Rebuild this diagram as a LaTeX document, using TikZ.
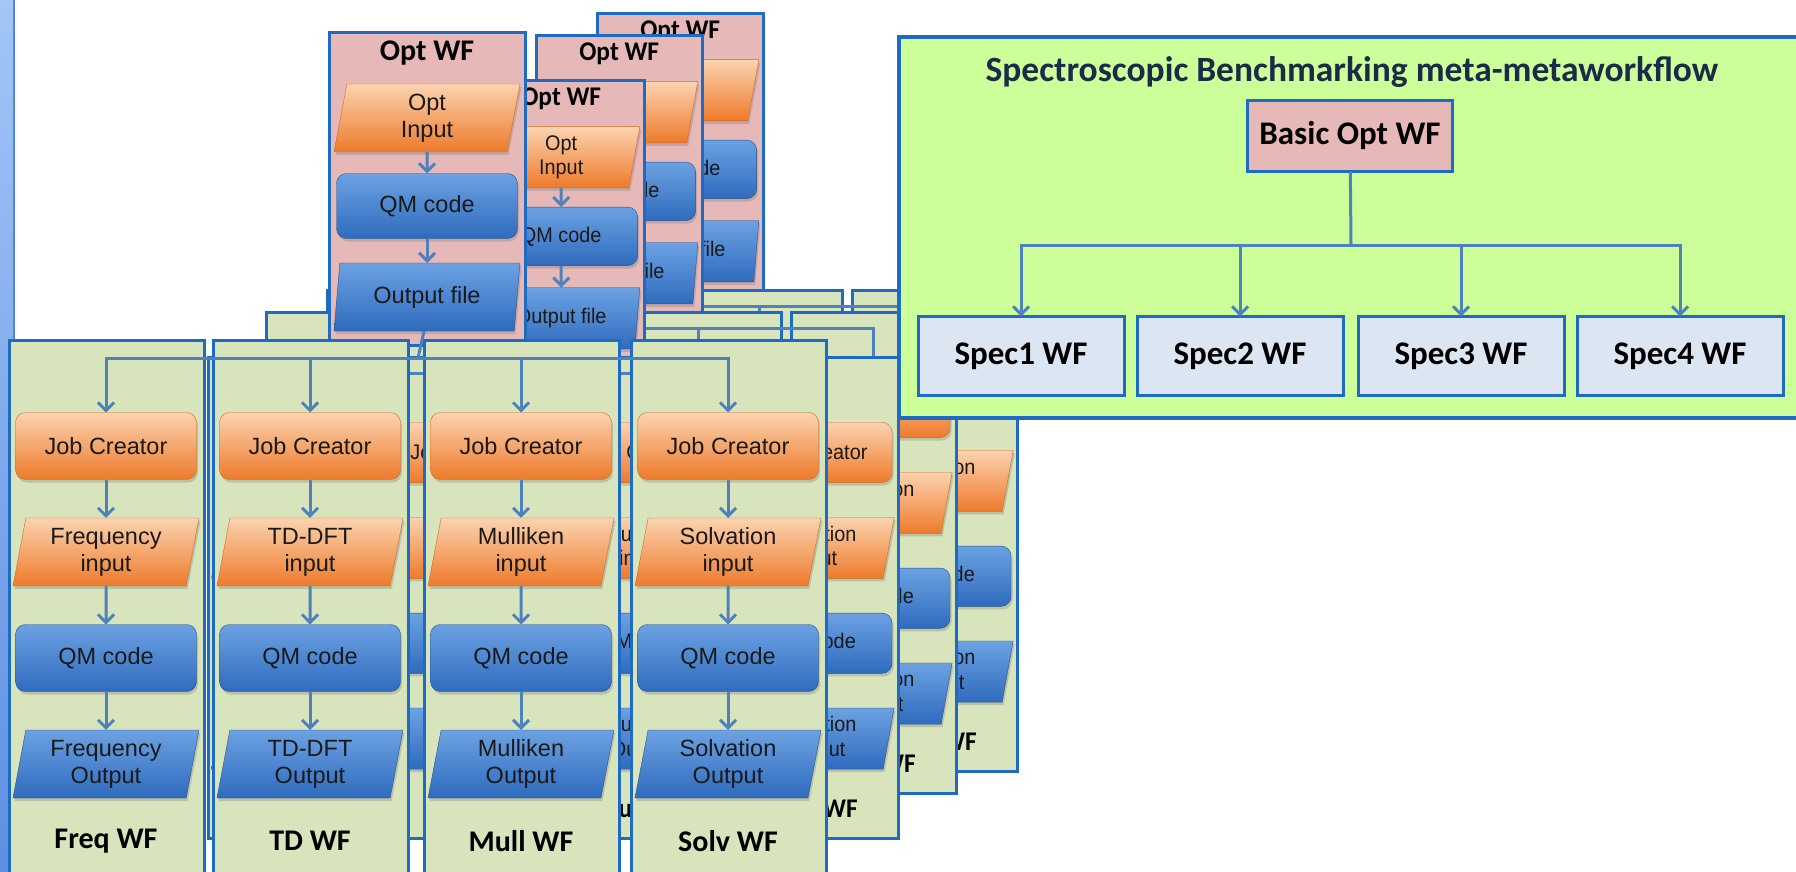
\documentclass[tikz,border=0pt]{standalone}
\usepackage{fontspec}
\setmainfont{Liberation Sans}
\newfontfamily\titlefont{Carlito}
\usetikzlibrary{shapes.geometric,arrows.meta,shadows}

\definecolor{panelblue}{HTML}{1E6BC4}
\definecolor{panelgreen}{HTML}{D8E4BC}
\definecolor{panelpink}{HTML}{E6B9B8}
\definecolor{metagreen}{HTML}{CCFF99}
\definecolor{specblue}{HTML}{DCE6F2}
\definecolor{flowblue}{HTML}{4F81BD}
\definecolor{jobtop}{HTML}{FBD3B0}
\definecolor{jobbot}{HTML}{EE7A2A}
\definecolor{jobedge}{HTML}{D0691E}
\definecolor{qmtop}{HTML}{6CA2E2}
\definecolor{qmbot}{HTML}{2F6BBE}
\definecolor{qmedge}{HTML}{24528E}
\definecolor{titlenavy}{HTML}{1B2A48}
\definecolor{bartop}{HTML}{A3C5F7}
\definecolor{barbot}{HTML}{5E8FE0}

% one copy of the optimisation workflow with its four property workflows
\newcommand{\metacopy}[5]{%
\begin{scope}[shift={(#2,#3)}, xscale=#4, yscale=#5, transform shape]
  \node[pinkpanel]  (#1 opt)       at (320,-307) {};
  \node[paneltitle] (#1 opt title) at (418,-287) {Opt WF};
  \node[inbox]      (#1 opt in)    at (418,-222) {Opt\\Input};
  \node[codebox, minimum height=65] (#1 opt qm) at (418,-134) {QM code};
  \node[outbox]     (#1 opt out)   at (418,-43)  {Output file};
  \draw[flow] (#1 opt in) -- (#1 opt qm);
  \draw[flow] (#1 opt qm) -- (#1 opt out);
  \foreach \i/\px/\prop/\wf in {1/0/Frequency/Freq WF, 2/204/TD-DFT/TD WF,
                                3/415/Mulliken/Mull WF, 4/622/Solvation/Solv WF}{
    \node[greenpanel] (#1 p\i)       at (\px,0)      {};
    \node[jobbox]     (#1 p\i jc)    at (\px+97,106) {Job Creator};
    \node[inbox]      (#1 p\i in)    at (\px+97,212) {\prop\\input};
    \node[codebox]    (#1 p\i qm)    at (\px+97,318) {QM code};
    \node[outbox]     (#1 p\i out)   at (\px+97,424) {\prop\\Output};
    \node[paneltitle] (#1 p\i title) at (\px+97,501) {\wf};
    \draw[flow] (#1 p\i jc) -- (#1 p\i in);
    \draw[flow] (#1 p\i in) -- (#1 p\i qm);
    \draw[flow] (#1 p\i qm) -- (#1 p\i out);
  }
  \coordinate (#1 bus) at (409,18);
  \draw[flowline] (#1 opt out.bottom side) -- (#1 bus);
  \foreach \i in {1,...,4}
    \draw[flow] (#1 bus) -| (#1 p\i jc);
\end{scope}}

\begin{document}
\begin{tikzpicture}[x=1pt, y=-1pt,
    every node/.style = {inner sep=0pt, outer sep=0pt},
    panelbox/.style   = {draw=panelblue, line width=3pt, anchor=north west},
    greenpanel/.style = {panelbox, fill=panelgreen,
                         minimum width=195, minimum height=535},
    pinkpanel/.style  = {panelbox, fill=panelpink,
                         minimum width=196, minimum height=312},
    paneltitle/.style = {font=\titlefont\bfseries\fontsize{30}{32}\selectfont},
    boxtext/.style    = {align=center, text=black!90,
                         font=\fontsize{23.5}{27}\selectfont,
                         drop shadow={opacity=0.35, shadow xshift=1.5pt,
                                      shadow yshift=-3pt}},
    jobbox/.style     = {boxtext, rounded corners=10pt, draw=jobedge,
                         top color=jobtop, bottom color=jobbot,
                         minimum width=181, minimum height=67},
    codebox/.style    = {boxtext, rounded corners=10pt, draw=qmedge,
                         top color=qmtop, bottom color=qmbot,
                         minimum width=181, minimum height=67},
    parabox/.style    = {boxtext, trapezium, trapezium left angle=75,
                         trapezium right angle=105, trapezium stretches body,
                         minimum width=186, minimum height=68},
    inbox/.style      = {parabox, draw=jobedge,
                         top color=jobtop, bottom color=jobbot},
    outbox/.style     = {parabox, draw=qmedge,
                         top color=qmtop, bottom color=qmbot},
    flowline/.style   = {draw=flowblue, line width=3pt},
    flow/.style       = {flowline, -{Straight Barb[length=8pt,width=16pt]}},
    metabox/.style    = {panelblue, fill=metagreen, draw, line width=3.5pt,
                         anchor=north west, minimum width=910, minimum height=381},
    metatitle/.style  = {text=titlenavy,
                         font=\titlefont\bfseries\fontsize{35.5}{38}\selectfont},
    basicbox/.style   = {draw=panelblue, fill=panelpink, line width=3pt,
                         minimum width=205, minimum height=71,
                         font=\titlefont\bfseries\fontsize{33}{35}\selectfont},
    specbox/.style    = {draw=panelblue, fill=specblue, line width=3pt,
                         minimum width=206, minimum height=79,
                         font=\titlefont\bfseries\fontsize{33}{35}\selectfont}]

  \path[use as bounding box, clip] (0,0) rectangle (1796,872);
  \fill[white] (0,0) rectangle (1796,872);

  % slide edge
  \shade[top color=bartop, bottom color=barbot] (0,0) rectangle (14,872);
  \draw[panelblue!80, line width=1.5pt] (14,0) -- (14,872);

  % stacked copies, back to front
  \metacopy{d}{327}{290}{0.845}{0.9}
  \metacopy{c}{266}{312}{0.845}{0.9}
  \metacopy{b}{208}{357}{0.845}{0.9}
  \metacopy{front}{9}{340}{1}{1}

  % meta-metaworkflow
  \node[metabox]   (meta)       at (899,37)   {};
  \node[metatitle] (meta title) at (1352,72)  {Spectroscopic Benchmarking meta-metaworkflow};
  \node[basicbox]  (basic)      at (1350,136) {Basic Opt WF};
  \foreach \j/\sx in {1/1021, 2/1240, 3/1461, 4/1680}
    \node[specbox] (spec\j) at (\sx,356) {Spec\j\ WF};
  \coordinate (split) at (1351,245);
  \draw[flowline] (basic) -- (split);
  \foreach \j in {1,...,4}
    \draw[flow] (split) -| (spec\j);
\end{tikzpicture}
\end{document}
